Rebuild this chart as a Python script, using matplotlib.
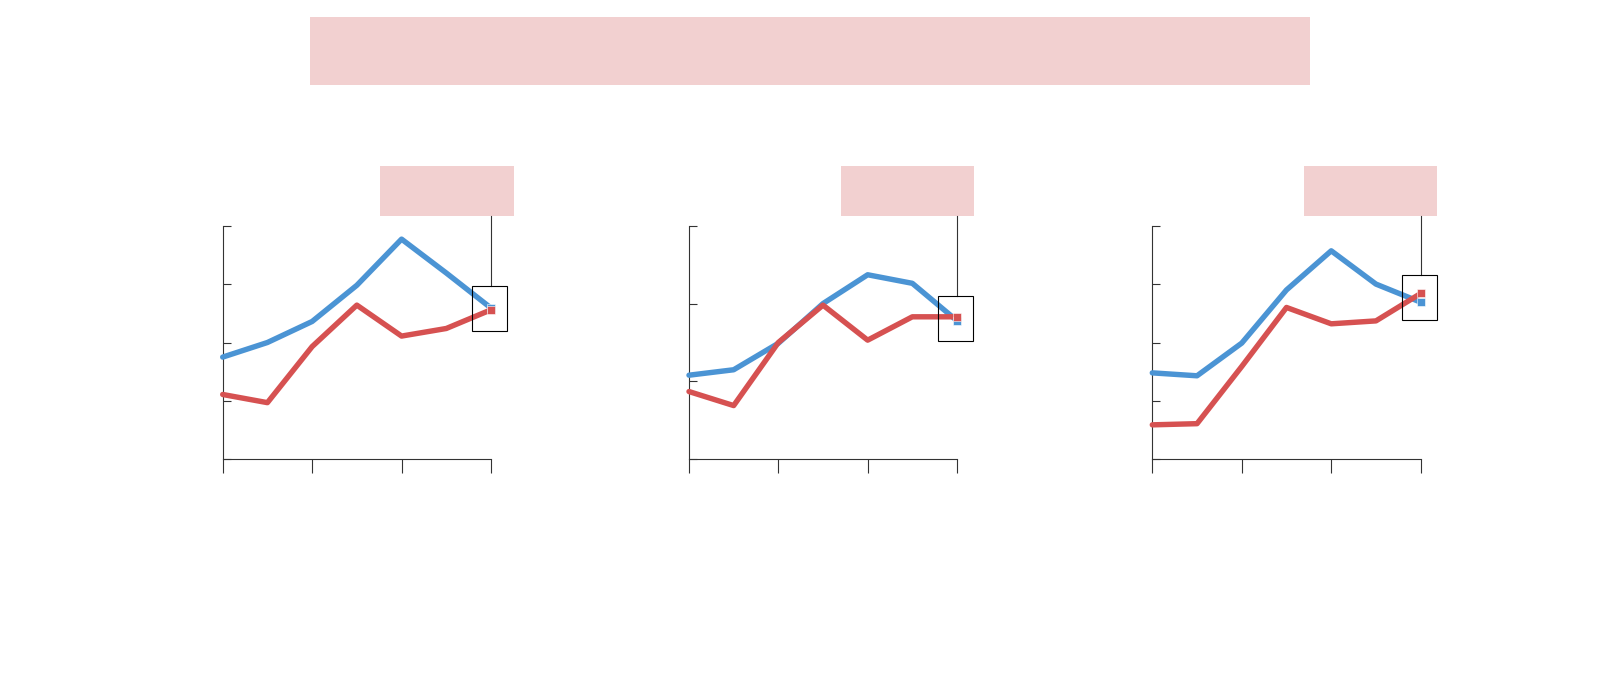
import matplotlib
matplotlib.use("Agg")
import matplotlib.pyplot as plt
from matplotlib.patches import Rectangle
from matplotlib.lines import Line2D

W, H = 1620, 684
DPI = 100

BLUE = "#4b94d4"
RED = "#d65151"
PINK = "#f2d0d0"
AXIS = "#333333"

# ---- data -------------------------------------------------------------
x_steps = [0, 1, 2, 3, 4, 5, 6]
x_ticks = [0, 2, 4, 6]

blue_1 = [1.75, 2.00, 2.36, 2.98, 3.77, 3.19, 2.59]
red_1 = [1.11, 0.97, 1.93, 2.64, 2.11, 2.24, 2.56]
blue_2 = [1.08, 1.15, 1.49, 2.00, 2.37, 2.26, 1.78]
red_2 = [0.87, 0.69, 1.50, 1.98, 1.53, 1.83, 1.83]
blue_3 = [1.48, 1.43, 1.99, 2.90, 3.57, 3.00, 2.69]
red_3 = [0.59, 0.61, 1.59, 2.60, 2.32, 2.37, 2.84]

blue_series = [blue_1, blue_2, blue_3]
red_series = [red_1, red_2, red_3]
y_max = [4, 3, 4]

# ---- layout (pixels: left, top, right, bottom) ------------------------
axes_px = [(222.7, 225.7, 491.0, 459.3),
           (689.0, 225.7, 957.0, 459.3),
           (1152.3, 225.7, 1420.7, 459.3)]
label_px = [(380.3, 165.7, 513.7, 215.7),
            (840.7, 165.7, 973.7, 215.7),
            (1304.0, 165.7, 1437.0, 215.7)]
title_px = (310.0, 16.5, 1310.0, 84.7)
box_w, box_h = 35.0, 45.0
box_dx = -1.5  # box sits a hair left of the end point


def frac(l, t, r, b):
    """pixel box -> figure fraction [left, bottom, width, height]"""
    return [l / W, 1 - b / H, (r - l) / W, (b - t) / H]


fig = plt.figure(figsize=(W / DPI, H / DPI), dpi=DPI)

# title placeholder
l, b, w, h = frac(*title_px)
fig.patches.append(Rectangle((l, b), w, h, transform=fig.transFigure,
                             facecolor=PINK, edgecolor="none"))

for i in range(3):
    ax = fig.add_axes(frac(*axes_px[i]))
    ax.plot(x_steps, blue_series[i], color=BLUE, lw=3.9,
            solid_capstyle="round", clip_on=False, zorder=3)
    ax.plot(x_steps, red_series[i], color=RED, lw=3.9,
            solid_capstyle="round", clip_on=False, zorder=4)
    ax.plot(x_steps[-1], blue_series[i][-1], "s", color=BLUE, ms=5.8,
            mec="white", mew=0.4, clip_on=False, zorder=5)
    ax.plot(x_steps[-1], red_series[i][-1], "s", color=RED, ms=5.8,
            mec="white", mew=0.4, clip_on=False, zorder=6)

    ax.set_xlim(0, 6)
    ax.set_ylim(0, y_max[i])
    ax.set_xticks(x_ticks)
    ax.set_yticks(range(0, y_max[i] + 1))
    ax.set_xticklabels([])
    ax.set_yticklabels([])
    for side in ("top", "right"):
        ax.spines[side].set_visible(False)
    for side in ("left", "bottom"):
        ax.spines[side].set_color(AXIS)
        ax.spines[side].set_linewidth(0.8)
    ax.tick_params(axis="y", direction="in", length=5.8, width=0.8, color=AXIS)
    ax.tick_params(axis="x", direction="out", length=10, width=0.8, color=AXIS)

    # annotation box around the last values, leader line to label
    y_mid = (blue_series[i][-1] + red_series[i][-1]) / 2
    px, py = ax.transData.transform((x_steps[-1], y_mid))
    py_top = H - py  # pixel row from top
    cx = px + box_dx
    bl, bb, bw, bh = frac(cx - box_w / 2, py_top - box_h / 2,
                          cx + box_w / 2, py_top + box_h / 2)
    fig.patches.append(Rectangle((bl, bb), bw, bh, transform=fig.transFigure,
                                 facecolor="none", edgecolor="black",
                                 lw=0.8, zorder=7))
    lab = label_px[i]
    fig.lines.append(Line2D([px / W, px / W], [bb + bh, 1 - lab[3] / H],
                            transform=fig.transFigure, color=AXIS, lw=0.8))
    l, b, w, h = frac(*lab)
    fig.patches.append(Rectangle((l, b), w, h, transform=fig.transFigure,
                                 facecolor=PINK, edgecolor="none"))

fig.savefig("out.png", dpi=DPI)
plt.close(fig)
